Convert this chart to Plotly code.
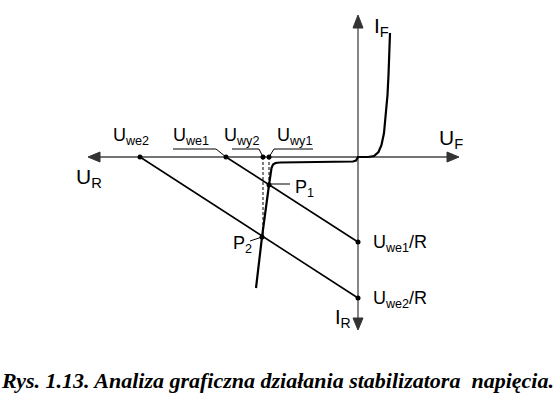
import plotly.graph_objects as go

# ---- data (diagram coordinates, pixel-like units, y grows downward) ----
axis_h_x = [95, 452]; axis_h_y = [157, 157]
axis_v_x = [358, 358]; axis_v_y = [25, 322]

# arrow heads (triangles)
arrow_up_x = [353, 358, 363, 353];   arrow_up_y = [28, 15, 28, 28]
arrow_down_x = [353, 358, 363, 353]; arrow_down_y = [318, 330, 318, 318]
arrow_left_x = [100, 88, 100, 100];  arrow_left_y = [152, 157, 162, 152]
arrow_right_x = [447, 459, 447, 447]; arrow_right_y = [152, 157, 162, 152]

# diode characteristic
diode_x = [256, 262, 269, 271.5, 273, 275.5, 280, 340, 353, 356, 357.5, 358,
           368, 374, 378.5, 381.5, 384, 386, 387.5, 388.5, 389.5, 390]
diode_y = [288, 237, 185, 168, 164.5, 163, 162.5, 162, 161.5, 160.5, 158.5, 157,
           157, 156, 152, 145, 133, 115, 95, 75, 55, 33]

# load lines
load1_x = [226, 358]; load1_y = [157, 242]
load2_x = [140, 358]; load2_y = [157, 298]

# dashed projections
dash1_x = [269, 269]; dash1_y = [157, 185]
dash2_x = [263, 263]; dash2_y = [157, 237]

# dots
dots_x = [140, 226, 263, 269, 269, 262, 358, 358]
dots_y = [157, 157, 157, 157, 185, 237, 242, 298]

# label leader lines
lead_we1_x = [173, 216, 226]; lead_we1_y = [149, 149, 157]
lead_wy2_x = [232, 259, 263]; lead_wy2_y = [149, 149, 157]
lead_wy1_x = [313, 274, 269]; lead_wy1_y = [149, 149, 157]
lead_p1_x = [269, 290]; lead_p1_y = [184, 184]
lead_p2_x = [250, 262]; lead_p2_y = [241, 237]

# labels
labels = [
    ("I<sub>F</sub>", 372, 27, 21),
    ("U<sub>F</sub>", 437, 139, 21),
    ("U<sub>R</sub>", 74, 178, 21),
    ("I<sub>R</sub>", 333, 318, 20),
    ("U<sub>we2</sub>", 111, 136, 18),
    ("U<sub>we1</sub>", 171, 136, 18),
    ("U<sub>wy2</sub>", 222, 136, 18),
    ("U<sub>wy1</sub>", 275, 136, 18),
    ("P<sub>1</sub>", 293, 188, 18),
    ("P<sub>2</sub>", 231, 244, 18),
    ("U<sub>we1</sub>/R", 371, 243, 18),
    ("U<sub>we2</sub>/R", 371, 299, 18),
]
caption = "Rys. 1.13. Analiza graficzna działania stabilizatora  napięcia."

fig = go.Figure()

def line(x, y, color="black", width=1.5, dash=None):
    fig.add_trace(go.Scatter(x=x, y=y, mode="lines",
                             line=dict(color=color, width=width, dash=dash),
                             hoverinfo="skip", showlegend=False))

def tri(x, y, color="#333333"):
    fig.add_trace(go.Scatter(x=x, y=y, mode="lines", fill="toself",
                             fillcolor=color, line=dict(color=color, width=1),
                             hoverinfo="skip", showlegend=False))

line(axis_h_x, axis_h_y, color="#444444", width=1.3)
line(axis_v_x, axis_v_y, color="#444444", width=1.3)
tri(arrow_up_x, arrow_up_y)
tri(arrow_down_x, arrow_down_y)
tri(arrow_left_x, arrow_left_y)
tri(arrow_right_x, arrow_right_y)

line(load1_x, load1_y, width=1.6)
line(load2_x, load2_y, width=1.6)
line(dash1_x, dash1_y, width=1, dash="3px,2px")
line(dash2_x, dash2_y, width=1, dash="3px,2px")
line(diode_x, diode_y, width=2.2)

for lx, ly in [(lead_we1_x, lead_we1_y), (lead_wy2_x, lead_wy2_y),
               (lead_wy1_x, lead_wy1_y), (lead_p1_x, lead_p1_y),
               (lead_p2_x, lead_p2_y)]:
    line(lx, ly, width=1)

fig.add_trace(go.Scatter(x=dots_x, y=dots_y, mode="markers",
                         marker=dict(color="black", size=5),
                         hoverinfo="skip", showlegend=False))

for text, x, y, size in labels:
    fig.add_annotation(x=x, y=y, text=text, showarrow=False,
                       xanchor="left", yanchor="middle",
                       font=dict(family="Liberation Sans, Arial", size=size, color="black"))

fig.add_annotation(x=277, y=380, text="<b><i>" + caption + "</i></b>", showarrow=False,
                   xanchor="center", yanchor="middle",
                   font=dict(family="Liberation Serif, Times New Roman", size=22, color="black"))

fig.update_layout(
    width=554, height=402,
    margin=dict(l=0, r=0, t=0, b=0),
    paper_bgcolor="white", plot_bgcolor="white",
    xaxis=dict(range=[0, 554], visible=False, fixedrange=True),
    yaxis=dict(range=[402, 0], visible=False, fixedrange=True),
)

fig.write_html("out.html", config={"displayModeBar": False},
               post_script="document.body.style.margin='0px';document.body.style.overflow='hidden';")
